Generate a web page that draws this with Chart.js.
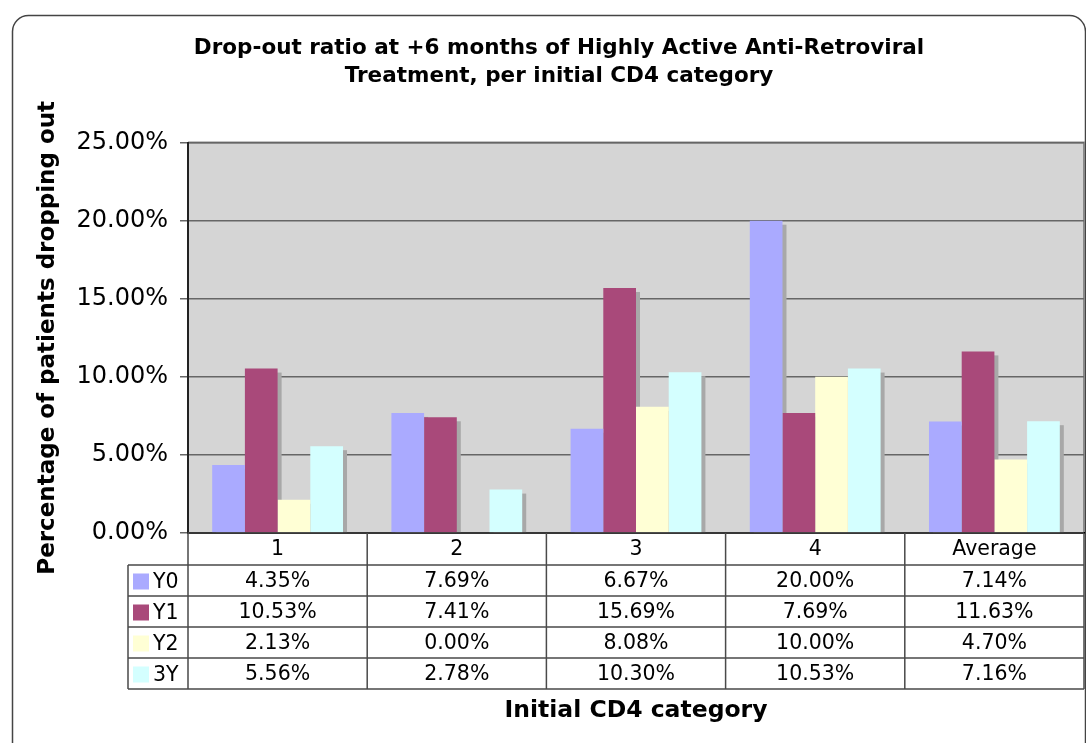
<!DOCTYPE html>
<html>
<head>
<meta charset="utf-8">
<script src="https://cdn.jsdelivr.net/npm/chart.js@4"></script>
<style>
  body { margin: 0; background: #fff; }
  #wrap { width: 1086px; height: 743px; }
</style>
</head>
<body>
<div id="wrap"><canvas id="dropoutChart" width="1086" height="743"></canvas></div>
<script>
const categories = ['1', '2', '3', '4', 'Average'];
const seriesNames = ['Y0', 'Y1', 'Y2', '3Y'];
const seriesColors = ['#aaaaff', '#a9497a', '#ffffd5', '#d4ffff'];
const y0Values = [4.35, 7.69, 6.67, 20.00, 7.14];
const y1Values = [10.53, 7.41, 15.69, 7.69, 11.63];
const y2Values = [2.13, 0.00, 8.08, 10.00, 4.70];
const y3Values = [5.56, 2.78, 10.30, 10.53, 7.16];
const yTicks = [0, 5, 10, 15, 20, 25];

const allSeries = [y0Values, y1Values, y2Values, y3Values];
const FONT = '"DejaVu Sans", Verdana, sans-serif';

// table geometry below the plot
const headerRowHeight = 32;
const rowHeight = 31;
const legendColLeft = 128;

// plot background, frame and outer rounded border
const framePlugin = {
    id: 'frame',
    beforeDraw(chart) {
        const { ctx, chartArea: a } = chart;
        ctx.save();
        ctx.fillStyle = '#fff';
        ctx.fillRect(0, 0, chart.width, chart.height);
        ctx.strokeStyle = '#444';
        ctx.lineWidth = 1.5;
        ctx.beginPath();
        ctx.roundRect(12.5, 15.5, chart.width - 13, chart.height + 40, 16);
        ctx.stroke();
        ctx.fillStyle = '#d5d5d5';
        ctx.fillRect(a.left, a.top, a.right - a.left, a.bottom - a.top);
        ctx.strokeStyle = '#8a8a8a';
        ctx.lineWidth = 2;
        ctx.beginPath();
        ctx.moveTo(a.left, a.top);
        ctx.lineTo(a.right, a.top);
        ctx.lineTo(a.right, a.bottom);
        ctx.stroke();
        ctx.restore();
    }
};

// grey drop shadow to the right of every bar
const shadowPlugin = {
    id: 'barShadow',
    beforeDatasetsDraw(chart) {
        const { ctx, chartArea: a } = chart;
        ctx.save();
        ctx.beginPath();
        ctx.rect(a.left, a.top, a.right - a.left, a.bottom - a.top);
        ctx.clip();
        ctx.fillStyle = '#a8a8a8';
        chart.data.datasets.forEach((ds, i) => {
            chart.getDatasetMeta(i).data.forEach(bar => {
                const p = bar.getProps(['x', 'y', 'width', 'base'], true);
                if (p.base - p.y < 1) return;
                ctx.fillRect(p.x - p.width / 2 + 4, p.y + 4, p.width, p.base - p.y - 4);
            });
        });
        ctx.restore();
    }
};

// data table under the x axis
const tablePlugin = {
    id: 'dataTable',
    afterDraw(chart) {
        const { ctx, chartArea: a } = chart;
        const x = chart.scales.x;
        const top = a.bottom;
        const bodyTop = top + headerRowHeight;
        const bottom = bodyTop + rowHeight * seriesNames.length;
        const half = (x.getPixelForValue(1) - x.getPixelForValue(0)) / 2;

        ctx.save();
        ctx.strokeStyle = '#4a4a4a';
        ctx.lineWidth = 1.5;
        ctx.beginPath();
        // vertical lines
        categories.forEach((c, i) => {
            const xl = x.getPixelForValue(i) - half;
            ctx.moveTo(xl, top);
            ctx.lineTo(xl, bottom);
        });
        ctx.moveTo(a.right, top);
        ctx.lineTo(a.right, bottom);
        ctx.moveTo(legendColLeft, bodyTop);
        ctx.lineTo(legendColLeft, bottom);
        // horizontal lines
        ctx.moveTo(a.left, top);
        ctx.lineTo(a.right, top);
        for (let r = 0; r <= seriesNames.length; r++) {
            const yy = bodyTop + r * rowHeight;
            ctx.moveTo(legendColLeft, yy);
            ctx.lineTo(a.right, yy);
        }
        ctx.stroke();

        ctx.fillStyle = '#000';
        ctx.font = '20.5px ' + FONT;
        ctx.textAlign = 'center';
        ctx.textBaseline = 'middle';
        categories.forEach((c, i) => {
            ctx.fillText(c, x.getPixelForValue(i), top + headerRowHeight / 2 + 1);
        });
        seriesNames.forEach((name, r) => {
            const cy = bodyTop + r * rowHeight + rowHeight / 2 + 1;
            ctx.fillStyle = seriesColors[r];
            ctx.fillRect(legendColLeft + 5, cy - 8, 16, 16);
            ctx.fillStyle = '#000';
            ctx.textAlign = 'left';
            ctx.fillText(name, legendColLeft + 25, cy + 1);
            ctx.textAlign = 'center';
            allSeries[r].forEach((v, i) => {
                ctx.fillText(v.toFixed(2) + '%', x.getPixelForValue(i), cy);
            });
        });
        ctx.restore();
    }
};

new Chart(document.getElementById('dropoutChart'), {
    type: 'bar',
    data: {
        labels: categories,
        datasets: seriesNames.map((name, i) => ({
            label: name,
            data: allSeries[i],
            backgroundColor: seriesColors[i],
            borderWidth: 0,
            categoryPercentage: 0.73,
            barPercentage: 1.0
        }))
    },
    options: {
        responsive: false,
        animation: false,
        layout: { padding: { left: 34, right: 2, top: 20, bottom: 18 } },
        plugins: {
            legend: { display: false },
            tooltip: { enabled: false },
            title: {
                display: true,
                text: ['Drop-out ratio at +6 months of Highly Active Anti-Retroviral',
                       'Treatment, per initial CD4 category'],
                color: '#000',
                font: { family: FONT, size: 21.5, weight: 'bold', lineHeight: 1.27 },
                padding: { top: 15, bottom: 53 }
            }
        },
        scales: {
            x: {
                grid: { display: false },
                ticks: { display: false },
                border: { color: '#000', width: 2 },
                title: {
                    display: true,
                    text: 'Initial CD4 category',
                    color: '#000',
                    font: { family: FONT, size: 23.5, weight: 'bold' },
                    padding: 0
                },
                afterFit: s => { s.height = 192; }
            },
            y: {
                min: 0,
                max: 25,
                afterBuildTicks: s => { s.ticks = yTicks.map(v => ({ value: v })); },
                ticks: {
                    color: '#000',
                    font: { family: FONT, size: 24 },
                    padding: 12,
                    callback: v => v.toFixed(2) + '%'
                },
                grid: { color: '#666', lineWidth: 1.5, tickLength: 8 },
                border: { color: '#222', width: 2 },
                title: {
                    display: true,
                    text: 'Percentage of patients dropping out',
                    color: '#000',
                    font: { family: FONT, size: 23, weight: 'bold' },
                    padding: 0
                },
                afterFit: s => { s.width = 154; }
            }
        }
    },
    plugins: [framePlugin, shadowPlugin, tablePlugin]
});
</script>
</body>
</html>
